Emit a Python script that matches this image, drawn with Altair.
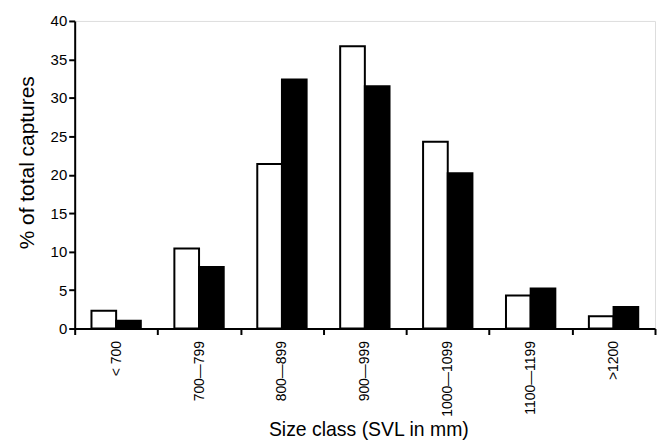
import altair as alt
import pandas as pd

categories = ["< 700", "700—799", "800—899", "900—999", "1000—1099", "1100—1199", ">1200"]
series_a = [2.3, 10.4, 21.4, 36.7, 24.3, 4.3, 1.6]   # open bars
series_b = [1.0, 8.0, 32.4, 31.5, 20.2, 5.2, 2.8]    # filled bars
series_names = ["A", "B"]

rows = []
for c, a, b in zip(categories, series_a, series_b):
    rows.append({"cls": c, "grp": series_names[0], "val": a})
    rows.append({"cls": c, "grp": series_names[1], "val": b})
df = pd.DataFrame(rows)

FONT = "Liberation Sans"

chart = alt.Chart(df).mark_bar(stroke="black", strokeWidth=2).encode(
    x=alt.X("cls:N", sort=categories,
            scale=alt.Scale(paddingInner=0, paddingOuter=0),
            axis=alt.Axis(title="Size class (SVL in mm)", labelAngle=270,
                          labelAlign="right", labelBaseline="middle",
                          labelPadding=6, tickBand="extent", tickSize=6,
                          tickWidth=2, domainWidth=2, domainColor="black",
                          tickColor="black", labelFontSize=14, titleFontSize=19.5,
                          titleFontWeight="normal", labelFont=FONT, titleFont=FONT,
                          labelColor="black", titleColor="black",
                          titleX=295, titleY=107, titleBaseline="alphabetic")),
    xOffset=alt.XOffset("grp:N", sort=series_names,
                        scale=alt.Scale(paddingInner=0, paddingOuter=0.68)),
    y=alt.Y("val:Q", scale=alt.Scale(domain=[0, 40], nice=False),
            axis=alt.Axis(title="% of total captures", values=list(range(0, 41, 5)),
                          tickSize=6, tickWidth=2, domainWidth=2, domainColor="black",
                          tickColor="black", labelFontSize=15, titleFontSize=21,
                          titleFontWeight="normal", labelFont=FONT, titleFont=FONT,
                          labelColor="black", titleColor="black", grid=False,
                          labelPadding=2, titleX=-47, titleY=142,
                          titleBaseline="middle", titleAngle=270)),
    fill=alt.Fill("grp:N", sort=series_names,
                  scale=alt.Scale(domain=series_names, range=["white", "black"]),
                  legend=None),
).properties(
    width=583, height=309,
    autosize=alt.AutoSizeParams(type="none"),
    padding={"left": 67, "top": 12, "right": 2, "bottom": 116},
).configure_view(stroke=None).configure(background="white")

chart.save("out.html", embed_options={"renderer": "svg", "actions": False})
